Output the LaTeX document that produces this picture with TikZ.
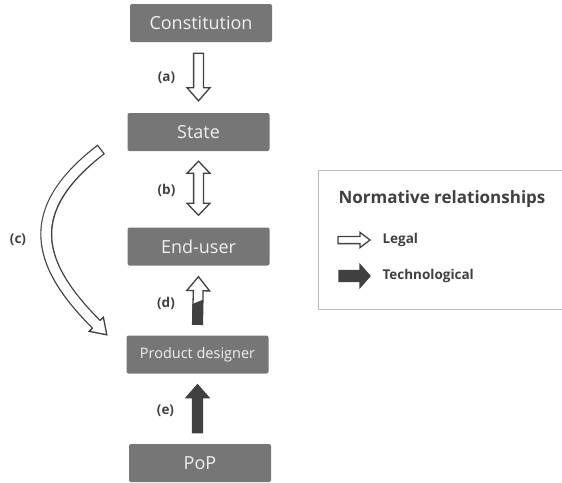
\documentclass[tikz,border=0pt]{standalone}
\usepackage{fontspec}
\setmainfont{Open Sans}
\usetikzlibrary{
    positioning,
    calc
}
\definecolor{boxgray}{RGB}{118,118,118}
\definecolor{inkgray}{RGB}{64,64,64}
\definecolor{framegray}{RGB}{191,191,191}
\tikzset{
    arrshaft/.store in=\arrshaft,
    arrhead/.store in=\arrhead,
    arrlen/.store in=\arrlen,
    arrshaft=4.9pt,
    arrhead=11.4pt,
    arrlen=13pt
}
\tikzstyle{actor} = [
    rectangle,
    rounded corners=2pt,
    fill=boxgray,
    text=white!94!black,
    minimum width=142pt,
    minimum height=38pt,
    inner sep=0pt,
    font=\fontsize{18}{20}\selectfont
]
\tikzstyle{tag} = [
    text=inkgray,
    font=\bfseries\fontsize{13.5}{15}\selectfont
]
\tikzstyle{legal} = [
    draw=inkgray,
    line width=1.3pt,
    fill=white
]
\tikzstyle{tech} = [
    draw=inkgray,
    line width=1.3pt,
    fill=inkgray
]
\tikzstyle{blockarrow} = [to path={
    ($(\tikztostart)!\arrshaft!90:(\tikztotarget)$)
    -- ($($(\tikztotarget)!\arrlen!(\tikztostart)$)!\arrshaft!90:(\tikztotarget)$)
    -- ($($(\tikztotarget)!\arrlen!(\tikztostart)$)!\arrhead!90:(\tikztotarget)$)
    -- (\tikztotarget)
    -- ($($(\tikztotarget)!\arrlen!(\tikztostart)$)!\arrhead!-90:(\tikztotarget)$)
    -- ($($(\tikztotarget)!\arrlen!(\tikztostart)$)!\arrshaft!-90:(\tikztotarget)$)
    -- ($(\tikztostart)!\arrshaft!-90:(\tikztotarget)$)
    -- cycle}]
\tikzstyle{twinarrow} = [to path={
    (\tikztostart)
    -- ($($(\tikztostart)!\arrlen!(\tikztotarget)$)!\arrhead!90:(\tikztotarget)$)
    -- ($($(\tikztostart)!\arrlen!(\tikztotarget)$)!\arrshaft!90:(\tikztotarget)$)
    -- ($($(\tikztotarget)!\arrlen!(\tikztostart)$)!\arrshaft!90:(\tikztotarget)$)
    -- ($($(\tikztotarget)!\arrlen!(\tikztostart)$)!\arrhead!90:(\tikztotarget)$)
    -- (\tikztotarget)
    -- ($($(\tikztotarget)!\arrlen!(\tikztostart)$)!\arrhead!-90:(\tikztotarget)$)
    -- ($($(\tikztotarget)!\arrlen!(\tikztostart)$)!\arrshaft!-90:(\tikztotarget)$)
    -- ($($(\tikztostart)!\arrlen!(\tikztotarget)$)!\arrshaft!-90:(\tikztotarget)$)
    -- ($($(\tikztostart)!\arrlen!(\tikztotarget)$)!\arrhead!-90:(\tikztotarget)$)
    -- cycle}]

\begin{document}
\begin{tikzpicture}[x=1pt, y=-1pt]
        \useasboundingbox (0,0) rectangle (562,482);

        % Actors
        \node[actor] (constitution) at (201, 23) {Constitution};
        \node[actor] (state) at (198.5, 132) {State};
        \node[actor] (enduser) at (198.5, 246.5) {End-user};
        \node[actor, font=\fontsize{14.5}{16}\selectfont] (designer) at (197.5, 354.5) {Product designer};
        \node[actor] (pop) at (200, 463) {PoP};

        % Arrow ends
        \coordinate (abot) at ($(state.north)+(0,-12)$);
        \coordinate (atop) at ($(abot |- constitution.south)+(0,11)$);
        \coordinate (btop) at ($(state.south)+(0,10)$);
        \coordinate (bbot) at ($(enduser.north)+(0,-12)$);
        \coordinate (dtop) at ($(enduser.south)+(0,11)$);
        \coordinate (dbot) at ($(designer.north)+(0,-11)$);
        \coordinate (etop) at ($(designer.south)+(0,11)$);
        \coordinate (ebot) at ($(etop |- pop.north)+(0,-11)$);

        % (a) Constitution -> State
        \draw[legal] (atop) to[blockarrow] (abot);
        % (b) State <-> End-user
        \draw[legal, arrlen=12pt] (btop) to[twinarrow] (bbot);
        % (d) Product designer -> End-user
        \draw[legal, arrlen=14pt] (dbot) to[blockarrow] (dtop);
        \filldraw[tech, line width=0.6pt] ($(dbot)+(-4.9,0)$) -- ($(dbot)+(-4.9,-20)$)
            -- ($(dbot)+(4.9,-24)$) -- ($(dbot)+(4.9,0)$) -- cycle;
        \draw[draw=inkgray, line width=1.3pt] ($(dbot)+(-4.9,0)$) -- ($(dbot)+(4.9,0)$);
        % (e) PoP -> Product designer
        \draw[tech] (ebot) to[blockarrow] (etop);

        % (c) State -> Product designer
        \coordinate (cstart) at ($(state.south west)+(-26,-2)$);
        \coordinate (cend) at ($(designer.north west)+(-30,-11)$);
        \coordinate (ctip) at ($(cend)+(10.5,10.5)$);
        \draw[inkgray, line width=12pt] (cstart) .. controls +(-79,61) and +(-61,-61) .. (cend);
        \draw[white, line width=9.4pt, shorten <=1.3pt] (cstart) .. controls +(-79,61) and +(-61,-61) .. (cend);
        \fill[white] ($(cend)!10pt!90:(ctip)$) -- (ctip) -- ($(cend)!10pt!-90:(ctip)$) -- cycle;
        \draw[inkgray, line width=1.3pt, line join=miter] ($(cend)!5.35pt!90:(ctip)$) -- ($(cend)!10pt!90:(ctip)$)
            -- (ctip) -- ($(cend)!10pt!-90:(ctip)$) -- ($(cend)!5.35pt!-90:(ctip)$);

        % Labels
        \node[tag] (la) at ($(atop)!0.5!(abot)+(-32,1)$) {(a)};
        \node[tag] (lb) at ($(btop)!0.5!(bbot)+(-32,2)$) {(b)};
        \node[tag] (lc) at (18, 240) {(c)};
        \node[tag] (ld) at ($(dtop)!0.5!(dbot)+(-32,3)$) {(d)};
        \node[tag] (le) at ($(etop)!0.5!(ebot)+(-32,2)$) {(e)};

        % Legend
        \draw[framegray, line width=1pt] (562, 170) -- (318, 170) -- (318, 309) -- (562, 309);
        \node[anchor=west, text=inkgray, font=\bfseries\fontsize{17}{19}\selectfont] (legtitle) at (335, 199) {Normative relationships};
        \coordinate (legs) at (338, 240);
        \coordinate (lege) at (370, 240);
        \coordinate (techs) at (339, 276);
        \coordinate (teche) at (370, 276);
        \draw[legal, arrshaft=3.6pt, arrhead=7.6pt, arrlen=10pt] (legs) to[blockarrow] (lege);
        \draw[tech, arrshaft=5.4pt, arrhead=11.4pt, arrlen=10pt] (techs) to[blockarrow] (teche);
        \node[tag, anchor=west] (leglegal) at (379, 240) {Legal};
        \node[tag, anchor=west] (legtech) at (379, 276) {Technological};
    \end{tikzpicture}
\end{document}
